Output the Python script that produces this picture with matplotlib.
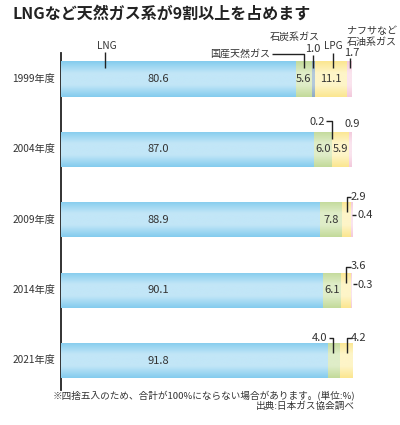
import numpy as np
import matplotlib
matplotlib.use("Agg")
import matplotlib.pyplot as plt
from matplotlib.colors import LinearSegmentedColormap

plt.rcParams['font.family'] = ['Noto Sans CJK JP', 'DejaVu Sans']

years = ['1999年度', '2004年度', '2009年度', '2014年度', '2021年度']
lng = [80.6, 87.0, 88.9, 90.1, 91.8]
domestic = [5.6, 6.0, 7.8, 6.1, 4.0]
coal = [1.0, 0.2, 0.0, 0.0, 0.0]
lpg = [11.1, 5.9, 2.9, 3.6, 4.2]
naphtha = [1.7, 0.9, 0.4, 0.3, 0.0]

series = [lng, domestic, coal, lpg, naphtha]
edge_cols = ['#84ccee', '#c3da9a', '#8eaac4', '#fbe690', '#f3c9dc']
mid_cols = ['#c2e6f7', '#dfedc8', '#b4c9da', '#fef5c8', '#fae4ee']

W, H = 400, 425
fig = plt.figure(figsize=(W / 100, H / 100), dpi=100)

# axes in pixel layout
ax_left, ax_right = 61, 352
ax_top, ax_bot = 53, 390
ppx = (ax_right - ax_left) / 100.0      # px per data unit x
row_px = 70.375                          # px per row
y0_px = 79                               # centre of first bar
ylim_top = -(y0_px - ax_top) / row_px
ylim_bot = (len(years) - 1) + (ax_bot - (y0_px + row_px * (len(years) - 1))) / row_px
ax = fig.add_axes([ax_left / W, 1 - ax_bot / H, (ax_right - ax_left) / W, (ax_bot - ax_top) / H])
ax.set_xlim(0, 100)
ax.set_ylim(ylim_bot, ylim_top)

def dx(p):
    return p / ppx

def dy(p):
    return p / row_px

bar_h = 0.5
ypos = np.arange(len(years))
left = np.zeros(len(years))
lefts = []
for k, (vals, ec, mc) in enumerate(zip(series, edge_cols, mid_cols)):
    vals = np.array(vals)
    bars = ax.barh(ypos, vals, left=left, height=bar_h, color=ec, edgecolor='none', zorder=2)
    cmap = LinearSegmentedColormap.from_list('g%d' % k, [ec, mc, mc, ec])
    grad = np.linspace(0, 1, 64).reshape(-1, 1)
    for b, v in zip(bars, vals):
        if v <= 0:
            continue
        x0 = b.get_x(); w = b.get_width(); yb = b.get_y(); h = b.get_height()
        im = ax.imshow(grad, cmap=cmap, aspect='auto', extent=[x0, x0 + w, yb + h, yb],
                       zorder=3, interpolation='bicubic')
        im.set_clip_path(b)
    lefts.append(left.copy())
    left = left + vals
ax.set_xlim(0, 100)
ax.set_ylim(ylim_bot, ylim_top)

for s in ['top', 'right', 'bottom']:
    ax.spines[s].set_visible(False)
ax.spines['left'].set_linewidth(1.3)
ax.spines['left'].set_color('#222222')
ax.set_xticks([])
ax.set_yticks([])

tc = '#333333'
lc = '#222222'
lw = 1.0
fs_val = 8
fs_lab = 7.2

def center(k, i):
    return lefts[k][i] + series[k][i] / 2

def top(i):
    return ypos[i] - bar_h / 2

def line(xs, ys):
    ax.plot(xs, ys, color=lc, lw=lw, zorder=5, clip_on=False, solid_capstyle='butt')

def txt(x, y, s, ha='center', fs=fs_val, **kw):
    ax.text(x, y, s, ha=ha, va='center', fontsize=fs, color=tc, zorder=6, clip_on=False, **kw)

# year labels
for i, yl in enumerate(years):
    ax.text(-dx(6), ypos[i], yl, ha='right', va='center', fontsize=7.3, color=tc)

# values inside bars
lng_label_x = 33.5
for i in range(len(years)):
    txt(lng_label_x, ypos[i], f'{lng[i]:.1f}')
# domestic inside labels
for i in range(len(years)):
    if i in (0, 1, 2, 3):
        txt(center(1, i), ypos[i], f'{domestic[i]:.1f}')
# LPG inside labels
for i in (0, 1):
    txt(center(3, i), ypos[i], f'{lpg[i]:.1f}')

# ---- 1999 annotations ----
i = 0
t = top(i)
lx = dx(105 - ax_left)
line([lx, lx], [t - dy(9.5), t + dy(6.5)])
txt(lx + dx(2), t - dy(15.5), 'LNG', fs=fs_lab)
cx = center(1, i)
line([cx - dx(32), cx, cx], [t - dy(7.5), t - dy(7.5), t + dy(6.5)])
txt(cx - dx(34), t - dy(7.5), '国産天然ガス', ha='right', fs=fs_lab)
cx = center(2, i)
line([cx, cx], [t - dy(6.5), t + dy(6.5)])
txt(cx - dx(1), t - dy(12.5), f'{coal[i]:.1f}')
txt(cx + dx(6.5), t - dy(24), '石炭系ガス', ha='right', fs=fs_lab)
cx = center(3, i) + dx(2)
line([cx, cx], [t - dy(8.5), t + dy(6.5)])
txt(cx, t - dy(15.5), 'LPG', fs=fs_lab)
cx = center(4, i)
line([cx, cx], [t - dy(3.5), t + dy(6.5)])
txt(cx + dx(2.5), t - dy(8), f'{naphtha[i]:.1f}')
txt(cx - dx(2.5), t - dy(30), 'ナフサなど', ha='left', fs=fs_lab)
txt(cx - dx(2.5), t - dy(19.5), '石油系ガス', ha='left', fs=fs_lab)

# ---- 2004 ----
i = 1
t = top(i)
cx = center(2, i)
line([cx - dx(5.5), cx, cx], [t - dy(11), t - dy(11), t + dy(7)])
txt(cx - dx(7), t - dy(10), f'{coal[i]:.1f}', ha='right')
cx = center(4, i)
txt(cx + dx(2), t - dy(7.5), f'{naphtha[i]:.1f}')

# ---- 2009 & 2014 ----
for i, up, down, lab_off in ((2, 5, 10, 12.5), (3, 6, 10, 11.5)):
    t = top(i)
    cx = center(3, i)
    line([cx + dx(4.5), cx, cx], [t - dy(up), t - dy(up), t + dy(down)])
    txt(cx + dx(4), t - dy(up + 0.5), f'{lpg[i]:.1f}', ha='left')
    nx = center(4, i)
    line([nx + dx(1), nx + dx(5)], [t + dy(lab_off), t + dy(lab_off)])
    txt(nx + dx(6), t + dy(lab_off + 0.5), f'{naphtha[i]:.1f}', ha='left')

# ---- 2021 ----
i = 4
t = top(i)
cx = center(1, i) - dx(0.7)
line([cx - dx(4.5), cx, cx], [t - dy(5), t - dy(5), t + dy(10)])
txt(cx - dx(6), t - dy(4.5), f'{domestic[i]:.1f}', ha='right')
cx = center(3, i) + dx(1)
line([cx + dx(5), cx, cx], [t - dy(5), t - dy(5), t + dy(10)])
txt(cx + dx(4), t - dy(4.5), f'{lpg[i]:.1f}', ha='left')

# title and notes
fig.text(13 / W, 1 - 14 / H, 'LNGなど天然ガス系が9割以上を占めます', ha='left', va='center',
         fontsize=11.5, fontweight='bold', color='#222222')
fig.text(355 / W, 1 - 396.5 / H, '※四捨五入のため、合計が100%にならない場合があります。(単位:%)',
         ha='right', va='center', fontsize=6.9, color=tc)
fig.text(355 / W, 1 - 406.5 / H, '出典:日本ガス協会調べ', ha='right', va='center', fontsize=6.9, color=tc)

fig.savefig('out.png', dpi=100)
